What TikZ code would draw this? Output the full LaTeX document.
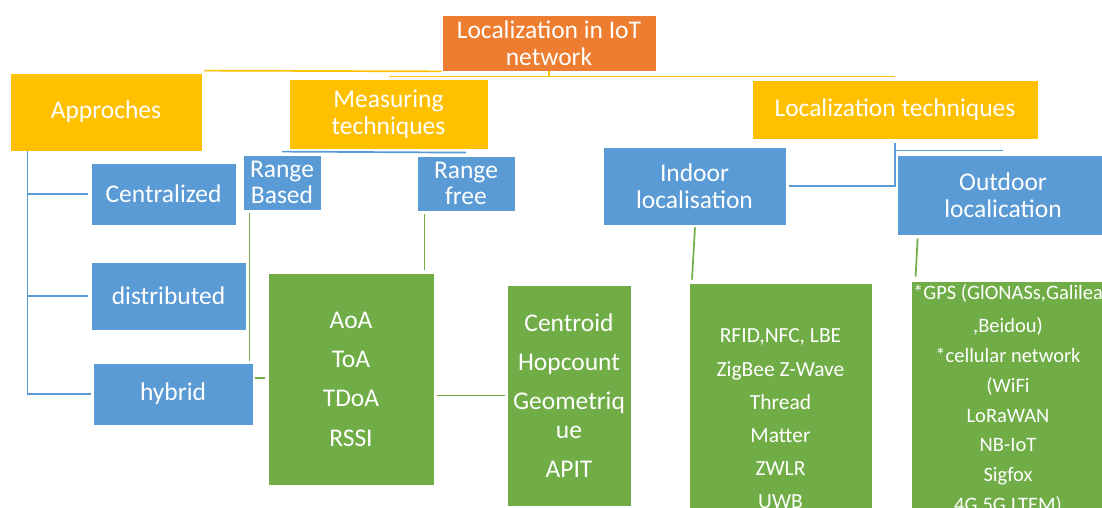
\documentclass[tikz,border=0pt]{standalone}
\usepackage{fontspec}
\setmainfont{Carlito}
\usetikzlibrary{calc}
\definecolor{cOrange}{HTML}{ED7D31}
\definecolor{cYellow}{HTML}{FFC000}
\definecolor{cBlue}{HTML}{5B9BD5}
\definecolor{cGreen}{HTML}{70AD47}
\begin{document}
\begin{tikzpicture}[x=1pt,y=-1pt,
 box/.style={draw=white, line width=0.8pt, inner sep=0pt, text=white, align=center, font=\fontsize{25.5}{27}\selectfont},
 ybox/.style={box, fill=cYellow},
 obox/.style={box, fill=cOrange},
 bbox/.style={box, fill=cBlue},
 gbox/.style={box, fill=cGreen},
 yline/.style={draw=cYellow, line width=1.7pt},
 bline/.style={draw=cBlue, line width=1.7pt},
 gline/.style={draw=cGreen, line width=1.7pt},
]
\useasboundingbox (0,0) rectangle (1102,508);
\clip (0,0) rectangle (1102,508);

% boxes
\node[obox, minimum width=214, minimum height=56] (root) at (549,43) {Localization in IoT\\network};
\node[ybox, minimum width=192, minimum height=78] (appr) at (106,112) {Approches};
\node[ybox, minimum width=199, minimum height=70] (meas) at (388.5,114) {Measuring\\techniques};
\node[ybox, minimum width=286, minimum height=59] (loct) at (895,109.5) {Localization techniques};
\node[bbox, minimum width=145, minimum height=62] (cen) at (163.5,194) {Centralized};
\node[bbox, minimum width=78, minimum height=55, font=\fontsize{25.5}{26}\selectfont] (rb) at (282,182.5) {Range\\Based};
\node[bbox, minimum width=98, minimum height=55, font=\fontsize{25.5}{26}\selectfont] (rf) at (466,183.5) {Range\\free};
\node[bbox, minimum width=155, minimum height=68] (dis) at (168.5,296) {distributed};
\node[bbox, minimum width=160, minimum height=62] (hyb) at (173,394) {hybrid};
\node[gbox, minimum width=166, minimum height=212, font=\fontsize{25.5}{39.3}\selectfont] (aoa) at (351,379) {AoA\\ToA\\TDoA\\RSSI};
\node[gbox, minimum width=124, minimum height=221, font=\fontsize{25.5}{29}\selectfont] (cent) at (569,395.5) {Centroid\\[10pt]Hopcount\\[10pt]Geometriq\\ue\\[10pt]APIT};
\node[bbox, minimum width=183, minimum height=78] (ind) at (694.5,186) {Indoor\\localisation};
\node[bbox, minimum width=212, minimum height=80] (out) at (1003,195) {Outdoor\\localication};
\node[gbox, minimum width=183, minimum height=272, font=\fontsize{21.5}{33.2}\selectfont] (rfid) at (780.5,419) {RFID,NFC, LBE\\ZigBee Z-Wave\\Thread\\Matter\\ZWLR\\UWB};
\node[gbox, minimum width=194, minimum height=270, font=\fontsize{20.5}{29.7}\selectfont] (gps) at (1008,416) {,Beidou)\\*cellular network\\(WiFi\\LoRaWAN\\NB-IoT\\Sigfox\\4G,5G,LTEM)};
\node[anchor=west, inner sep=0pt, text=white, font=\fontsize{20.5}{24}\selectfont] (gps1) at (913,293) {*GPS (GlONASs,Galileao};

% connectors
\draw[yline] ($(appr.north east)+(2,-2)$) -- (root.south west);
\coordinate (rj) at ($(root.south)+(0,5)$);
\draw[yline] (root.south) -- (rj);
\draw[yline] (meas.north |- rj) -- (loct.north |- rj);

\draw[bline] ($(rb.north)+(0,-3)$) -- ($(rf.north)+(0,-3)$);

\coordinate (at) at ($(appr.south west)+(18,0)$);
\draw[bline] (at) |- ($(hyb.west)+(-2,0)$);
\draw[bline] (at |- cen.west) -- ($(cen.west)+(-3,0)$);
\draw[bline] (at |- dis.west) -- ($(dis.west)+(-3,0)$);

\coordinate (rbd) at ($(rb.south west)+(7,3)$);
\draw[gline] (rbd) -- ($(rbd |- hyb.north)+(0,-2)$);
\draw[gline] ($(hyb.east)+(2,-16)$) -- ($(aoa.west |- hyb.east)+(-3,-16)$);
\coordinate (rfd) at ($(rf.south west)+(8,3)$);
\draw[gline] (rfd) -- ($(rfd |- aoa.north)+(0,-3)$);
\draw[gline] ($(aoa.east |- cent.west)+(3,0)$) -- ($(cent.west)+(-2,0)$);

\draw[gline] ($(ind.south)+(0.5,2)$) -- ($(rfid.north -| ind.south)+(-2.5,-3)$);
\draw[gline] ($(out.south west)+(21,3)$) -- ($(out.south west |- gps.north)+(19,-4)$);

\draw[bline] ($(loct.south)+(0,4)$) |- ($(ind.east)+(3,0)$);
\draw[bline] ($(loct.south |- out.north)+(0,-4)$) -- ($(out.north)+(0,-4)$);
\end{tikzpicture}
\end{document}
